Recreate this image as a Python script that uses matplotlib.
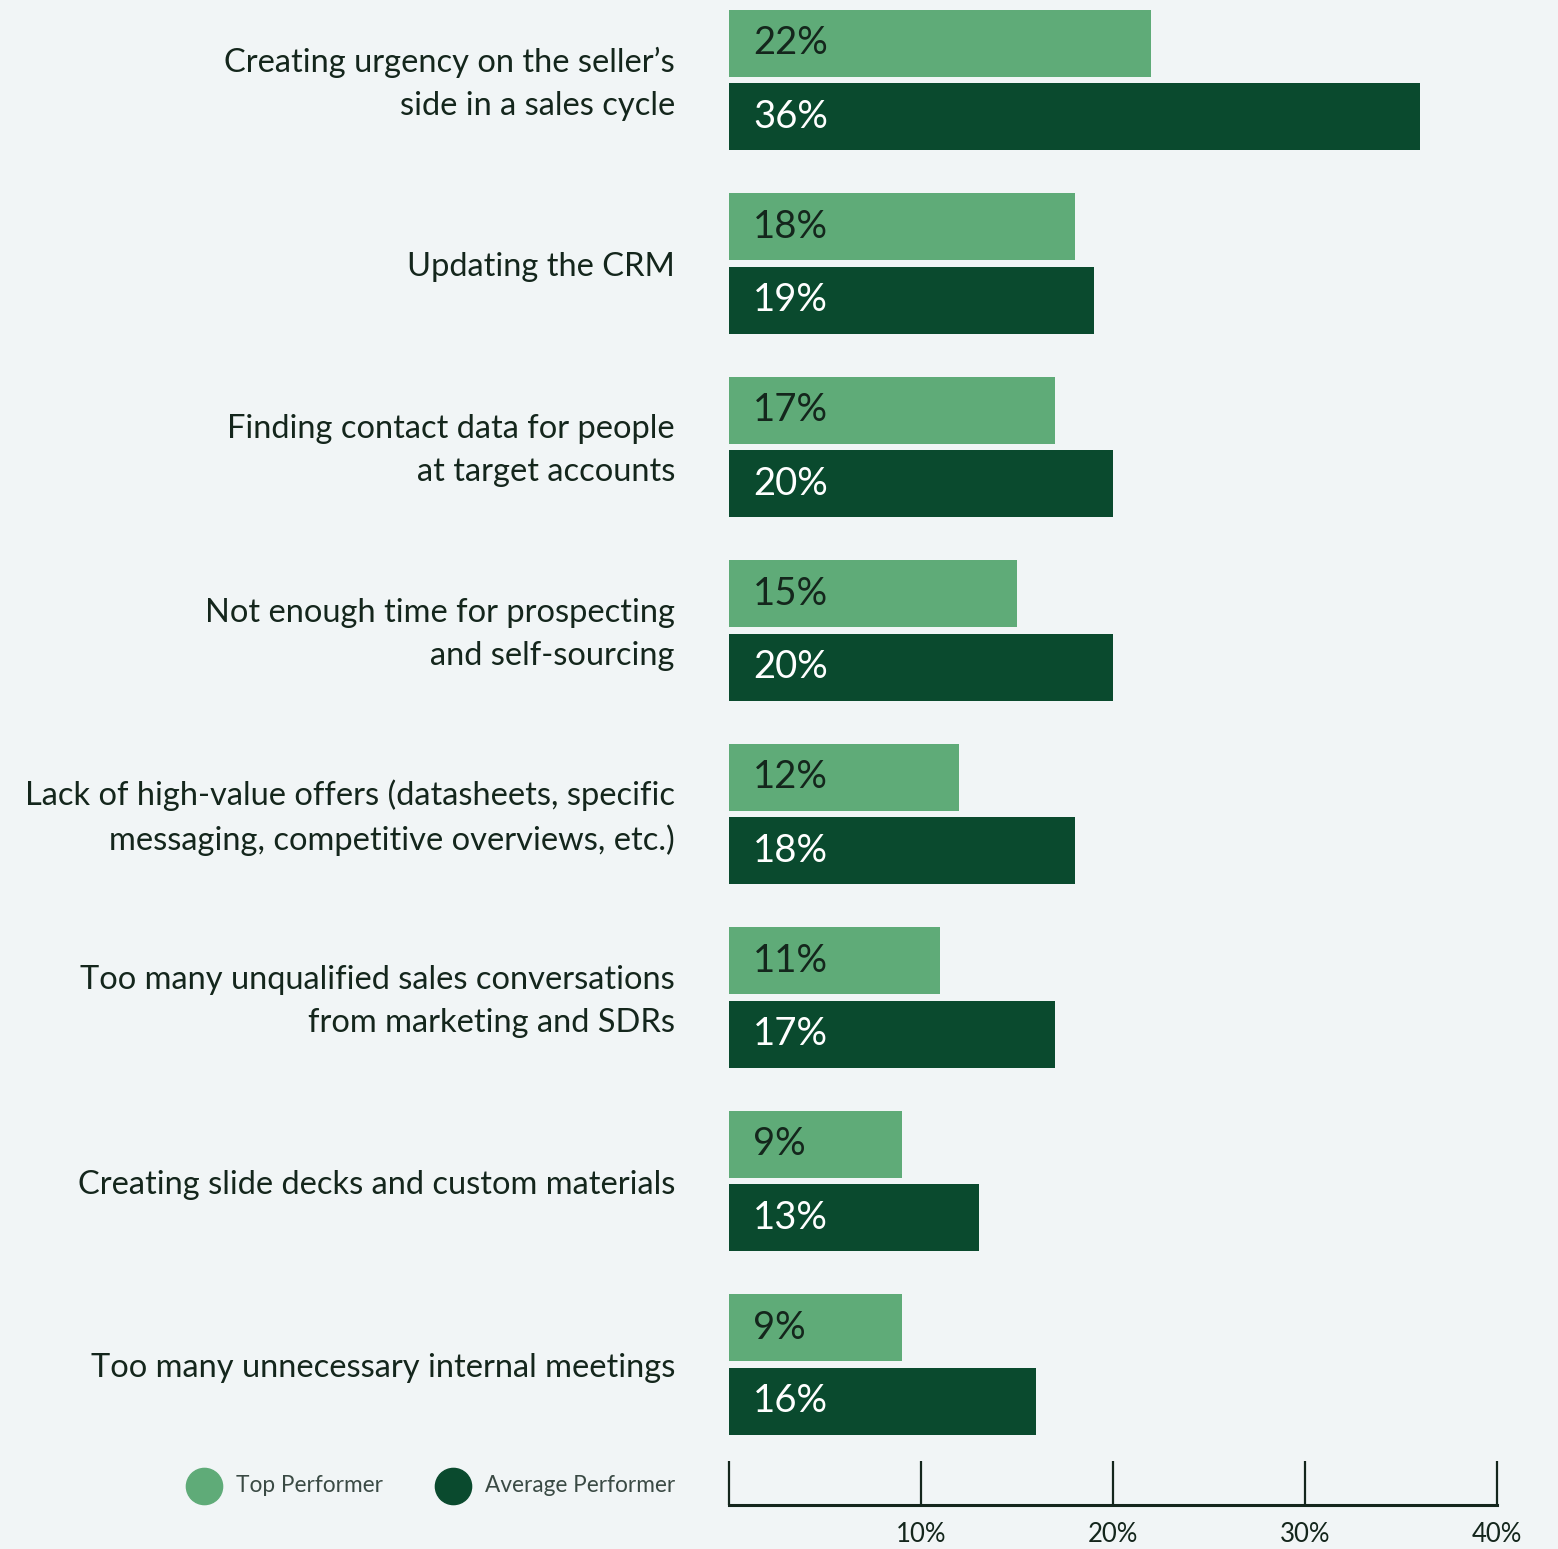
import matplotlib
matplotlib.use('Agg')
import matplotlib.pyplot as plt

categories = [
    'Creating urgency on the seller\u2019s\nside in a sales cycle',
    'Updating the CRM',
    'Finding contact data for people\nat target accounts',
    'Not enough time for prospecting\nand self-sourcing',
    'Lack of high-value offers (datasheets, specific\nmessaging, competitive overviews, etc.)',
    'Too many unqualified sales conversations\nfrom marketing and SDRs',
    'Creating slide decks and custom materials',
    'Too many unnecessary internal meetings',
]
top_performer = [22, 18, 17, 15, 12, 11, 9, 9]
average_performer = [36, 19, 20, 20, 18, 17, 13, 16]
tick_values = [0, 10, 20, 30, 40]
tick_labels = ['', '10%', '20%', '30%', '40%']

LIGHT = '#5fab78'
DARK = '#0a4a2e'
BG = '#f1f5f6'
INK = '#14261c'

plt.rcParams['font.family'] = ['Lato', 'DejaVu Sans']

W, H = 1558, 1549
fig = plt.figure(figsize=(W / 100, H / 100), dpi=100, facecolor=BG)

# bars: 0% sits at x=729px, 40% at x=1497px
x0, x40 = 729, 1497
ax = fig.add_axes([x0 / W, 0, (x40 - x0) / W, 1])
ax.set_facecolor('none')
ax.set_xlim(0, 40)
row_px = 183.5
first_px = 80
ax.set_ylim((H - first_px) / row_px, -first_px / row_px)
ax.axis('off')

px_per_pct = (x40 - x0) / 40
for i, (cat, t, a) in enumerate(zip(categories, top_performer, average_performer)):
    ax.barh(i - 0.2, t, height=0.365, color=LIGHT, left=0)
    ax.barh(i + 0.2, a, height=0.365, color=DARK, left=0)
    ax.text(24 / px_per_pct, i - 0.2, f'{t}%', va='center', ha='left',
            fontsize=27.5, color=INK)
    ax.text(24 / px_per_pct, i + 0.2, f'{a}%', va='center', ha='left',
            fontsize=27.5, color='white')
    ax.text(-54 / px_per_pct, i + 0.02, cat, va='center', ha='right', fontsize=23.5,
            color=INK, linespacing=1.53, clip_on=False)

# legend
leg_y = (1486 - first_px) / row_px
for px, color, label in [(204, LIGHT, 'Top Performer'), (453, DARK, 'Average Performer')]:
    ax.scatter([(px - x0) / px_per_pct], [leg_y], s=680, color=color, clip_on=False)
    ax.text((px + 32 - x0) / px_per_pct, leg_y, label, va='center', ha='left',
            fontsize=16.3, color='#3a4a44', clip_on=False)

# x axis
axis_px = 1505
xax = fig.add_axes([x0 / W, (H - axis_px) / H, (x40 - x0) / W, 0.001])
xax.set_facecolor('none')
xax.set_xlim(0, 40)
xax.set_yticks([])
for side in ['top', 'left', 'right']:
    xax.spines[side].set_visible(False)
xax.spines['bottom'].set_linewidth(2.2)
xax.spines['bottom'].set_color(INK)
xax.set_xticks(tick_values)
xax.set_xticklabels(tick_labels, fontsize=18.5, color=INK)
xax.tick_params(axis='x', direction='in', length=32, width=1.6, color=INK, pad=12)

fig.savefig('out.png', dpi=100, facecolor=BG)
